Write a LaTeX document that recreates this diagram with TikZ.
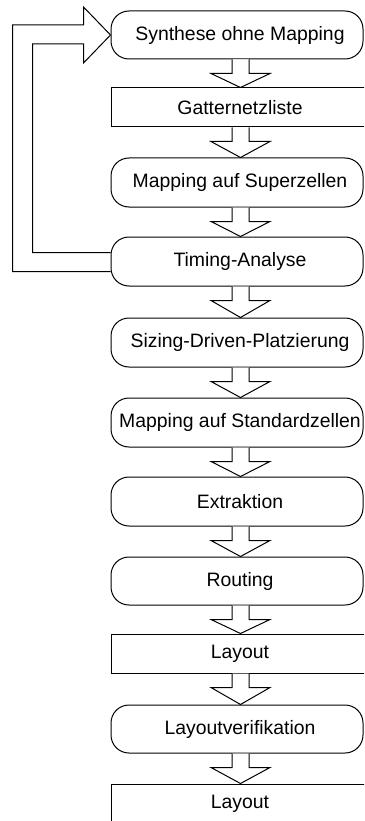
\documentclass[tikz,border=0pt]{standalone}
\usepackage{fontspec}
\setmainfont{Liberation Sans}
\usetikzlibrary{calc}
\def\ax{240.5pt}
\tikzset{
  boxline/.style={draw=black, line width=1pt},
  roundbox/.style={boxline, rounded corners=18pt, minimum width=252pt, inner sep=0pt, font=\fontsize{19.4}{23}\selectfont},
  rectbox/.style={boxline, minimum width=262pt, inner sep=0pt, font=\fontsize{19.4}{23}\selectfont},
  arrowline/.style={draw=black, line width=1pt, fill=white, line join=miter},
  lbl/.style={font=\fontsize{19.4}{23}\selectfont, inner sep=0pt}
}
\newcommand\flowarrow[2]{%
  \draw[arrowline] let \p1=(#1.south), \p2=(#2.north) in
   ({\ax-8.5pt},{\y1}) -- ({\ax-8.5pt},{\y1-14pt}) -- ({\ax-29.5pt},{\y1-14pt})
   -- ({\ax},{\y2}) -- ({\ax+29.5pt},{\y1-14pt}) -- ({\ax+8.5pt},{\y1-14pt})
   -- ({\ax+8.5pt},{\y1});}
\begin{document}
\begin{tikzpicture}[x=1pt,y=-1pt]
\useasboundingbox (0,0) rectangle (364,821);
\clip (0,0) rectangle (364,821);
\node[roundbox, minimum height=48pt] (b1) at (237,35) {};
\node[lbl] at (240,35) {Synthese ohne Mapping};
\node[rectbox, minimum height=39pt] (b2) at (242,107.5) {};
\node[lbl] at (240,107.5) {Gatternetzliste};
\node[roundbox, minimum height=49pt] (b3) at (237,182.5) {};
\node[lbl] at (240,182.5) {Mapping auf Superzellen};
\node[roundbox, minimum height=49pt] (b4) at (237,261.5) {};
\node[lbl] at (240,261.5) {Timing-Analyse};
\node[roundbox, minimum height=49pt] (b5) at (237,342.5) {};
\node[lbl] at (240,342.5) {Sizing-Driven-Platzierung};
\node[roundbox, minimum height=49pt] (b6) at (237,422.5) {};
\node[lbl] at (240,422.5) {Mapping auf Standardzellen};
\node[roundbox, minimum height=49pt] (b7) at (237,501.5) {};
\node[lbl] at (240,501.5) {Extraktion};
\node[roundbox, minimum height=48pt] (b8) at (237,581) {};
\node[lbl] at (240,581) {Routing};
\node[rectbox, minimum height=39pt] (b9) at (242,653.5) {};
\node[lbl] at (240,653.5) {Layout};
\node[roundbox, minimum height=48pt] (b10) at (237,729) {};
\node[lbl] at (240,729) {Layoutverifikation};
\node[rectbox, minimum height=48pt] (b11) at (242,808) {};
\node[lbl] at (240,804) {Layout};
\flowarrow{b1}{b2}
\flowarrow{b2}{b3}
\flowarrow{b3}{b4}
\flowarrow{b4}{b5}
\flowarrow{b5}{b6}
\flowarrow{b6}{b7}
\flowarrow{b7}{b8}
\flowarrow{b8}{b9}
\flowarrow{b9}{b10}
\flowarrow{b10}{b11}
\draw[arrowline, fill=none] ($(b4.west)+(0,10)$) -| ($(b1.west)+(-98,-10)$)
  -- ($(b1.west)+(-27,-10)$) -- ($(b1.west)+(-27,-28)$) -- (b1.west)
  -- ($(b1.west)+(-27,28)$) -- ($(b1.west)+(-27,9)$)
  -| ($(b4.west)+(-78,-9)$) -- ($(b4.west)+(0,-9)$);
\end{tikzpicture}
\end{document}
